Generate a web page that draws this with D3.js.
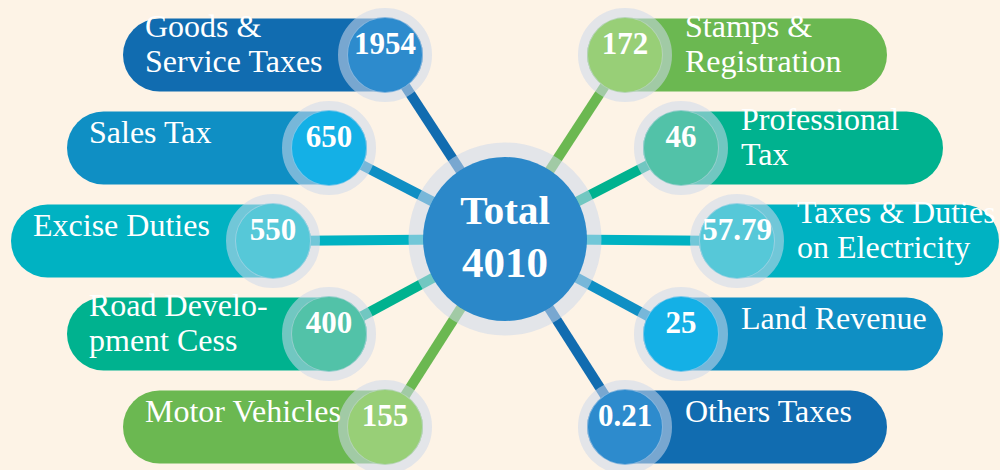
<!DOCTYPE html>
<html>
<head>
<meta charset="utf-8">
<script src="https://cdn.jsdelivr.net/npm/d3@7"></script>
<style>
  html, body { margin: 0; padding: 0; background: #fdf3e6; }
  svg { display: block; }
  text { font-family: "Liberation Serif", "Times New Roman", serif; fill: #fff; }
</style>
</head>
<body>
<svg width="1000" height="470"></svg>
<script>
// data
var leftLabels = [["Goods &", "Service Taxes"], ["Sales Tax"], ["Excise Duties"], ["Road Develo-", "pment Cess"], ["Motor Vehicles"]];
var leftValues = [1954, 650, 550, 400, 155];
var rightLabels = [["Stamps &", "Registration"], ["Professional", "Tax"], ["Taxes & Duties", "on Electricity"], ["Land Revenue"], ["Others Taxes"]];
var rightValues = [172, 46, 57.79, 25, 0.21];

var pillColors = ["#116cb0", "#0f8fc4", "#00b2c2", "#00b28f", "#6bb851"];
var dotColors = ["#2d8bcd", "#14b0e6", "#56c8d8", "#52c2a8", "#98cf77"];

var svg = d3.select("svg"),
  width = +svg.attr("width"),
  height = +svg.attr("height");

var cx = 505, cy = 239;
var pillW = 300, pillH = 73, r = 38;
var ringColor = "rgba(205,217,235,0.55)";

var rows = d3.range(5);
var y = d3.scalePoint().domain(rows).range([55, 427]);
// how far the outer end of a pill reaches from the centre (rows bow outwards)
var reach = d3.scaleLinear().domain([0, 2]).range([382, 494]);
function depth(i) { return 2 - Math.abs(i - 2); }

var items = [];
rows.forEach(function (i) {
  var outer = reach(depth(i));
  items.push({
    side: "left", row: i, label: leftLabels[i], value: leftValues[i],
    pill: pillColors[i], dot: dotColors[i],
    x0: cx - outer, x1: cx - outer + pillW,
    dx: cx - outer + pillW - r, dy: y(i)
  });
  items.push({
    side: "right", row: i, label: rightLabels[i], value: rightValues[i],
    pill: pillColors[4 - i], dot: dotColors[4 - i],
    x0: cx + outer - pillW, x1: cx + outer,
    dx: cx + outer - pillW + r, dy: y(i)
  });
});

var total = Math.round(d3.sum(leftValues.concat(rightValues)));

// spokes
svg.append("g").selectAll("line")
  .data(items)
  .enter().append("line")
  .attr("x1", cx).attr("y1", cy)
  .attr("x2", function (d) { return d.dx; })
  .attr("y2", function (d) { return d.dy; })
  .attr("stroke", function (d) { return d.pill; })
  .attr("stroke-width", 10);

// centre
svg.append("circle")
  .attr("cx", cx).attr("cy", cy).attr("r", 89)
  .attr("fill", "none")
  .attr("stroke", ringColor)
  .attr("stroke-width", 15);
svg.append("circle")
  .attr("cx", cx).attr("cy", cy).attr("r", 82)
  .attr("fill", "#2b88c9");
svg.append("text")
  .attr("x", cx).attr("y", cy - 15)
  .attr("text-anchor", "middle")
  .style("font-size", "41px").style("font-weight", "bold")
  .text("Total");
svg.append("text")
  .attr("x", cx).attr("y", cy + 38)
  .attr("text-anchor", "middle")
  .style("font-size", "43px").style("font-weight", "bold")
  .text(total);

var g = svg.append("g").selectAll("g")
  .data(items)
  .enter().append("g");

g.append("rect")
  .attr("x", function (d) { return d.x0; })
  .attr("y", function (d) { return d.dy - pillH / 2; })
  .attr("width", pillW)
  .attr("height", pillH)
  .attr("rx", pillH / 2)
  .attr("fill", function (d) { return d.pill; });

g.append("circle")
  .attr("cx", function (d) { return d.dx; })
  .attr("cy", function (d) { return d.dy; })
  .attr("r", r)
  .attr("fill", function (d) { return d.dot; });

g.append("circle")
  .attr("cx", function (d) { return d.dx; })
  .attr("cy", function (d) { return d.dy; })
  .attr("r", r + 4)
  .attr("fill", "none")
  .attr("stroke", ringColor)
  .attr("stroke-width", 10);

g.append("text")
  .attr("x", function (d) { return d.dx; })
  .attr("y", function (d) { return d.dy - 1; })
  .attr("text-anchor", "middle")
  .style("font-size", "31px").style("font-weight", "bold")
  .text(function (d) { return String(d.value); });

var labels = g.append("text")
  .attr("x", function (d) { return d.side == "left" ? d.x0 + 22 : d.dx + r + 22; })
  .style("font-size", "32px");

labels.selectAll("tspan")
  .data(function (d) {
    return d.label.map(function (t, k) {
      var n = d.label.length;
      return { t: t, yy: n == 1 ? d.dy - 5 : d.dy - 18 + k * 35 };
    });
  })
  .enter().append("tspan")
  .attr("x", function () { return d3.select(this.parentNode).attr("x"); })
  .attr("y", function (d) { return d.yy; })
  .text(function (d) { return d.t; });
</script>
</body>
</html>
